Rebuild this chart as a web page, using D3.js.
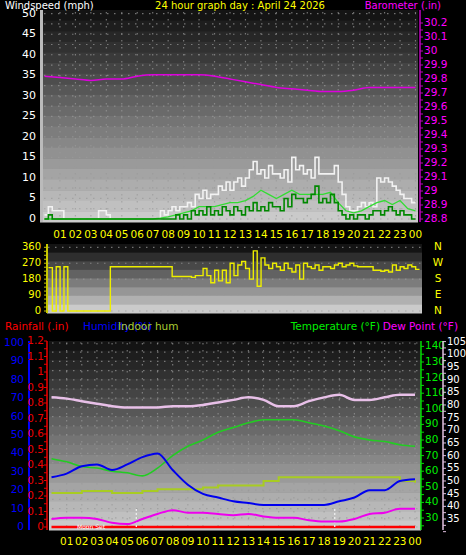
<!DOCTYPE html>
<html><head><meta charset="utf-8">
<script src="https://cdn.jsdelivr.net/npm/d3@7"></script>
<style>body{margin:0;background:#000}svg{display:block}text{font-family:"DejaVu Sans",Verdana,sans-serif}</style>
</head><body><svg id="c" width="466" height="555"></svg>
<script>
const hours=["01","02","03","04","05","06","07","08","09","10","11","12","13","14","15","16","17","18","19","20","21","22","23","00"];
const windGust=[1,3,2,2, 2,0,0,0, 0,0,0,0, 0,0,2,2, 1,0,0,0, 0,0,0,0, 0,0,0,0, 0,0,2,1, 2,3,2,3, 3,4,3,6, 5,7,5,6, 6,8,7,9, 7,9,10,8, 10,12,14,11, 12,10,13,11, 11,10,12,9, 15,12,13,11, 12,10,15,11, 11,11,11,13, 9,6,3,2, 2,3,4,3, 4,3,10,9, 10,9,8,7, 6,5,5,4, 4];
const windSpeed=[0,1,0,0, 0,0,0,0, 0,0,0,0, 0,0,0,0, 0,0,0,0, 0,0,0,0, 0,0,0,0, 0,0,0,0, 0,0,1,0, 1,0,2,1, 2,1,3,1, 2,1,3,2, 1,3,2,1, 3,2,4,2, 3,2,4,3, 3,2,5,3, 6,5,5,4, 5,6,8,4, 5,4,6,4, 2,1,0,1, 0,1,1,0, 1,2,2,1, 2,3,2,1, 2,1,1,0, 0];
const windAvg=[0,0,0,0,0,0,0,0,0,0,0,0,0,0,0,0.2,0.5,1,1.5,2,3,3,3,3.5,4,4,4.5,5.5,7,6,5,6,7,6,6,6,6,6.5,4,2,1.5,2,3,4,4.5,3.5,4.5,2.5,2];
const baro=[29.82,29.81,29.80,29.79,29.80,29.80,29.82,29.83,29.83,29.83,29.83,29.82,29.80,29.78,29.76,29.74,29.73,29.72,29.71,29.71,29.72,29.74,29.74,29.74,29.74];
const windDir=[245,0,250,0, 250,0,0,0, 0,0,0,0, 0,0,0,0, 250,250,250,250, 250,250,250,250, 250,250,250,250, 250,250,250,250, 195,195,195,195, 195,190,200,200, 240,200,160,230, 170,230,160,270, 200,260,280,240, 180,340,140,300, 260,240,270,250, 230,270,240,220, 260,180,270,250, 240,260,230,250, 250,240,260,270, 250,260,270,255, 250,250,250,250, 230,230,225,230, 220,260,230,250, 240,260,250,235, 235];
const temperature=[68,66,63,62,60,59,57,62,70,76,80,85,88,91,93,93,93,91,89,86,82,80,79,77,76];
const humidity=[27,29,33,34,31,34,38,40,31,23,18,16,14,13,12,12,12,12,12,14,16,20,20,25,26];
const indoorHum=[18.5,18.5,19.5,19.5,18.5,18.5,19.5,20.5,20.5,20.5,21.5,22.5,22.5,22.5,25,27,27,27,27,27,27,27,27,25,24];
const dewPoint=[35,35.5,35.5,35,33.5,33,35,37,38.5,37.5,37.5,37,36.5,37,36,35.5,35.5,34.5,34,34,35,37,37.5,39,39];
const indoorTemp=[83,82.5,81.5,80.5,79.5,79,79,79,79.5,79.5,80,81,82,83,82,79.5,79.5,81.5,83,84,82,82,83,84,84];
const rainfall=[0,0];
const compass=[["N",360],["W",270],["S",180],["E",90],["N",0]];

const svg=d3.select("#c");
svg.append("rect").attr("width",466).attr("height",555).attr("fill","#000");

function bg(x0,x1,y0,y1,n){
  const h=(y1-y0)/n;
  for(let i=0;i<n;i++){
    const c=d3.interpolateRgb("#141414","#cacaca")(i/(n-1));
    svg.append("rect").attr("x",x0).attr("y",y0+i*h).attr("width",x1-x0).attr("height",h+0.5).attr("fill",c);
  }
}
function dotsH(x0,x1,ys){ys.forEach(y=>svg.append("line").attr("x1",x0).attr("x2",x1).attr("y1",y).attr("y2",y).attr("stroke","#9a9a9a").attr("stroke-width",1.2).attr("stroke-dasharray","1.5,5.5").attr("opacity",0.7));}
function dotsV(xs,y0,y1){xs.forEach(x=>svg.append("line").attr("x1",x).attr("x2",x).attr("y1",y0).attr("y2",y1).attr("stroke","#9a9a9a").attr("stroke-width",1.2).attr("stroke-dasharray","1.5,5.5").attr("opacity",0.7));}
function txt(x,y,s,c,a,fs){return svg.append("text").attr("x",x).attr("y",y).attr("fill",c).attr("font-size",fs||10.5).attr("text-anchor",a||"start").attr("dominant-baseline","middle").text(s);}
function path(data,x,y,color,w,curve){
  svg.append("path").datum(data).attr("fill","none").attr("stroke",color).attr("stroke-width",w)
   .attr("d",d3.line().defined(d=>d!=null).x((d,i)=>x(i)).y(d=>y(d)).curve(curve||d3.curveLinear));
}

// ---------- top panel ----------
const xT=d3.scaleLinear().domain([0,24]).range([44.5,415.5]);
const yW=d3.scaleLinear().domain([0,50]).range([219,13.7]);
const yB=d3.scaleLinear().domain([28.8,30.2]).range([219,23]);
bg(40,418,10,222,20);
svg.append("rect").attr("x",40).attr("y",10).attr("width",3).attr("height",212).attr("fill","#bbb");
dotsH(44,416,d3.range(0,51,5).map(yW).concat([yW(2.5),yW(7.5),yW(12.5),yW(17.5),yW(22.5),yW(27.5),yW(32.5),yW(37.5),yW(42.5),yW(47.5)]));
dotsV(d3.range(1,25).map(xT),12,220);
d3.range(0,51,5).forEach(v=>txt(36,yW(v),v,"#fff","end",11));
const xq=i=>xT(i/4), xh=i=>xT(i/2), xo=i=>xT(i);
path(windGust,xq,yW,"#f2f2f2",1.6,d3.curveStepAfter);
path(windAvg,xh,yW,"#33dd33",1.3);
path(windSpeed,xq,yW,"#008800",1.6,d3.curveStepAfter);
path(baro,xo,yB,"#dd00dd",1.5,d3.curveMonotoneX);
svg.append("line").attr("x1",420).attr("x2",420).attr("y1",10).attr("y2",222).attr("stroke","#c000c0").attr("stroke-width",1.5);
d3.range(28.8,30.21,0.05).forEach(v=>svg.append("line").attr("x1",420).attr("x2",423).attr("y1",yB(v)).attr("y2",yB(v)).attr("stroke","#c000c0"));
d3.range(0,15).forEach(i=>{const v=28.8+i*0.1;txt(424,yB(v),(Math.round(v*10)/10).toString(),"#ff00ff","start",10.5);});
txt(5,5.5,"Windspeed (mph)","#fff","start",10);
txt(240,5.5,"24 hour graph day : April 24 2026","#ffff00","middle",10);
txt(441,5.5,"Barometer (.in)","#ff00ff","end",10);
hours.forEach((h,i)=>txt(xT(i+1),235,h,"#ffff00","middle",10.5));

// ---------- middle panel ----------
const yD=d3.scaleLinear().domain([0,360]).range([311,247.3]);
bg(47,422,244,313,8);
dotsH(48,421,[0,90,180,270,360].map(yD));
svg.append("line").attr("x1",47).attr("x2",47).attr("y1",244).attr("y2",313).attr("stroke","#c8c800").attr("stroke-width",2);
d3.range(0,361,22.5).forEach(v=>svg.append("line").attr("x1",44).attr("x2",47).attr("y1",yD(v)).attr("y2",yD(v)).attr("stroke","#c8c800"));
[0,90,180,270,360].forEach(v=>txt(41,yD(v),v,"#ffff00","end",10));
compass.forEach(c=>txt(438,yD(c[1]),c[0],"#ffff00","middle",10.5));
path(windDir,i=>xT(i/4)+4,yD,"#eeee00",1.4,d3.curveStepAfter);

// ---------- bottom panel ----------
const xB=d3.scaleLinear().domain([0,24]).range([51.5,415]);
const yH=d3.scaleLinear().domain([0,100]).range([527,343]);
const yR=d3.scaleLinear().domain([0,1.2]).range([527,341]);
const yTe=d3.scaleLinear().domain([30,140]).range([518,346.4]);
const yDp=d3.scaleLinear().domain([35,105]).range([519,341.6]);
bg(49,421,341,530,20);
dotsH(52,419,d3.range(0,101,5).map(yH));
dotsV(d3.range(1,25).map(xB),343,527);
txt(5,327,"Rainfall (.in)","#ff0000","start",10.5);
txt(83,327,"Humidity (%)","#0000ff","start",10.5);
txt(118,327,"Indoor hum","#aacc33","start",10.5);
txt(380,327,"Temperature (°F)","#00ee00","end",10.5);
txt(458,327,"Dew Point (°F)","#ff00ff","end",10.5);
svg.append("line").attr("x1",29).attr("x2",29).attr("y1",341).attr("y2",530).attr("stroke","#0000ff").attr("stroke-width",2);
d3.range(0,101,10).forEach(v=>txt(24,yH(v),v,"#0000ff","end",10.5));
svg.append("line").attr("x1",47).attr("x2",47).attr("y1",341).attr("y2",530).attr("stroke","#ee0000").attr("stroke-width",1.5);
d3.range(0,1.21,0.05).forEach(v=>svg.append("line").attr("x1",44).attr("x2",47).attr("y1",yR(v)).attr("y2",yR(v)).attr("stroke","#ee0000"));
d3.range(0,13).forEach(i=>{const v=i/10;txt(44,yR(v),String(v),"#ee0000","end",10.5);});
svg.append("line").attr("x1",421).attr("x2",421).attr("y1",341).attr("y2",530).attr("stroke","#00dd00").attr("stroke-width",1.5);
d3.range(25,141,5).forEach(v=>svg.append("line").attr("x1",421).attr("x2",424).attr("y1",yTe(v)).attr("y2",yTe(v)).attr("stroke","#00dd00"));
d3.range(30,141,10).forEach(v=>txt(425,yTe(v),v,"#00ee00","start",10.5));
svg.append("line").attr("x1",443).attr("x2",443).attr("y1",341).attr("y2",530).attr("stroke","#e0c0e0").attr("stroke-width",1.5);
d3.range(30,106,2.5).forEach(v=>svg.append("line").attr("x1",443).attr("x2",446).attr("y1",yDp(v)).attr("y2",yDp(v)).attr("stroke","#e0c0e0"));
d3.range(35,106,5).forEach(v=>txt(447,yDp(v),v,"#ffffff","start",10));
const xbh=i=>xB(i);
svg.append("line").attr("x1",xB(0)).attr("x2",xB(24)).attr("y1",yR(rainfall[0])).attr("y2",yR(rainfall[1])).attr("stroke","#ff0000").attr("stroke-width",2.5);
[5.6,18.7].forEach(h=>svg.append("line").attr("x1",xB(h)).attr("x2",xB(h)).attr("y1",509).attr("y2",528).attr("stroke","#eee").attr("stroke-width",1.3).attr("stroke-dasharray","2,2"));
txt(77,527,"Moon Set","#ffffff","start",6);
path(indoorTemp,xbh,yDp,"#e8c0e8",2.5,d3.curveMonotoneX);
path(temperature,xbh,yTe,"#22cc22",1.6,d3.curveMonotoneX);
path(indoorHum,xbh,yH,"#a8cc22",2,d3.curveStepAfter);
path(humidity,xbh,yH,"#0000ee",2,d3.curveMonotoneX);
path(dewPoint,xbh,yDp,"#ee00ee",2,d3.curveMonotoneX);
hours.forEach((h,i)=>txt(xB(i+1),542,h,"#ffff00","middle",10.5));
</script></body></html>
